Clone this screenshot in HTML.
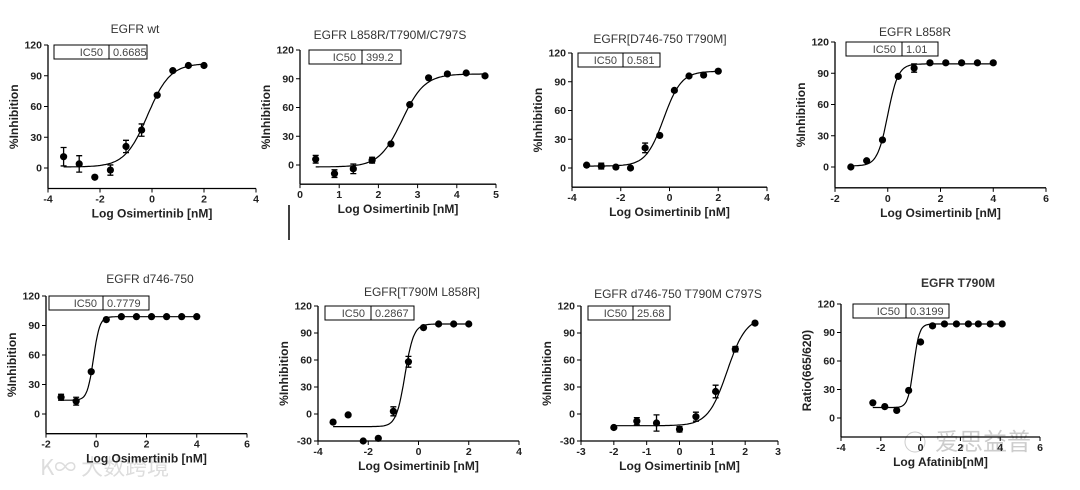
<!DOCTYPE html>
<html><head><meta charset="utf-8"><style>
html,body{margin:0;padding:0;background:#fff;}
svg{display:block;font-family:"Liberation Sans",Arial,sans-serif;}
.tk{font-size:10.5px;font-weight:bold;fill:#222;}
.al{font-size:12px;font-weight:bold;fill:#222;}
.tt{font-size:12px;fill:#333;}
.bx{font-size:11px;fill:#444;}
</style></head><body>
<svg id="c" width="1080" height="490" viewBox="0 0 1080 490">
<text x="40" y="475" font-family="Noto Sans CJK SC, sans-serif" font-size="22" fill="#ddd">K∞ 大数跨境</text>
<text x="935" y="450" font-family="Noto Sans CJK SC, sans-serif" font-size="24" fill="#ccc">爱思益普</text>
<circle cx="915" cy="442" r="10" fill="none" stroke="#ccc"/>
<line x1="289" y1="205" x2="289" y2="240" stroke="#000" stroke-width="1.5"/>
</svg>
<script>
// Panel data (x = log concentration, y = response, e = error)
const titles=["EGFR wt","EGFR L858R/T790M/C797S","EGFR[D746-750 T790M]","EGFR L858R","EGFR d746-750","EGFR[T790M L858R]","EGFR d746-750 T790M C797S","EGFR T790M"];
const ic50s=["0.6685","399.2","0.581","1.01","0.7779","0.2867","25.68","0.3199"];
const xLabels=["Log Osimertinib [nM]","Log Osimertinib [nM]","Log Osimertinib [nM]","Log Osimertinib [nM]","Log Osimertinib [nM]","Log Osimertinib [nM]","Log Osimertinib [nM]","Log Afatinib[nM]"];
const yLabels=["%Inhibition","%Inhibition","%Inhibition","%Inhibition","%Inhibition","%Inhibition","%Inhibition","Ratio(665/620)"];
const x1=[-3.4,-2.8,-2.2,-1.6,-1.0,-0.4,0.2,0.8,1.4,2.0];
const y1=[11,4,-9,-2,21,37,71,95,100,100];
const e1=[9,8,0,5,6,6,0,0,0,0];
const x2=[0.4,0.88,1.36,1.84,2.32,2.8,3.28,3.76,4.24,4.72];
const y2=[6,-9,-4,5,22,63,91,95,96,93];
const e2=[4,4,5,3,0,0,0,0,0,0];
const x3=[-3.4,-2.8,-2.2,-1.6,-1.0,-0.4,0.2,0.8,1.4,2.0];
const y3=[3,2,1,0,21,34,81,96,97,101];
const e3=[0,3,0,0,5,0,0,0,0,0];
const x4=[-1.4,-0.8,-0.2,0.4,1.0,1.6,2.2,2.8,3.4,4.0];
const y4=[0,6,26,87,95,100,100,100,100,100];
const e4=[0,0,0,0,4,0,0,0,0,0];
const x5=[-1.4,-0.8,-0.2,0.4,1.0,1.6,2.2,2.8,3.4,4.0];
const y5=[17,13,43,96,99,99,99,99,99,99];
const e5=[3,4,0,0,0,0,0,0,0,0];
const x6=[-3.4,-2.8,-2.2,-1.6,-1.0,-0.4,0.2,0.8,1.4,2.0];
const y6=[-9,-1,-30,-27,3,58,96,100,100,100];
const e6=[0,0,0,0,5,6,0,0,0,0];
const x7=[-2,-1.3,-0.7,0,0.5,1.1,1.7,2.3];
const y7=[-15,-8,-10,-17,-3,25,72,101];
const e7=[0,4,9,3,5,7,3,0];
const x8=[-2.4,-1.8,-1.2,-0.6,0,0.6,1.2,1.8,2.4,2.9,3.5,4.1];
const y8=[16,12,8,29,80,97,99,99,99,99,99,99];
const e8=[0,0,0,0,0,0,0,0,0,0,0,0];
// 4PL fit parameters: bottom, top, logIC50, hill
const fits=[[1,102,-0.17,1],[-2,95,2.6,1.5],[2,101,-0.24,1.2],[1,99,0.0,2.2],[14,99,-0.11,3.5],[-14,100,-0.54,2.5],[-13,108,1.45,1.5],[11,99,-0.35,3]];
const xTicks=[[-4,-2,0,2,4],[0,1,2,3,4,5],[-4,-2,0,2,4],[-2,0,2,4,6],[-2,0,2,4,6],[-4,-2,0,2,4],[-3,-2,-1,0,1,2,3],[-4,-2,0,2,4,6]];
const yTicks=[[0,30,60,90,120],[0,30,60,90,120],[0,30,60,90,120],[0,30,60,90,120],[0,30,60,90,120],[-30,0,30,60,90,120],[-30,0,30,60,90,120],[0,30,60,90,120]];
const yMins=[-20,-20,-20,-20,-20,-30,-30,-20];
const XS=[x1,x2,x3,x4,x5,x6,x7,x8],YS=[y1,y2,y3,y4,y5,y6,y7,y8],ES=[e1,e2,e3,e4,e5,e6,e7,e8];
// layout: axisLeftPx, axisRightPx, y120Px, y0Px, titleX, titleY, boxX, boxY, boxW1, boxW2
const L=[
 [48,256,45,168,135,33,54,45,55,38],
 [300,496,50,165,390,39,309,50,53,39],
 [572,767,53,168,660,43,578,53,45,37],
 [835,1046,42,167,915,36,846,42,56,36],
 [46,247,296,414,150,283,49,296,54,46],
 [318,519,306,414,422,296,325,306,46,43],
 [581,778,306,414,678,298,588,306,45,37],
 [841,1040,304,418,958,287,853,304,53,43]];
const svg=document.getElementById('c');
const NS='http://www.w3.org/2000/svg';
function mk(tag,attrs,parent){const e=document.createElementNS(NS,tag);for(const k in attrs)e.setAttribute(k,attrs[k]);(parent||svg).appendChild(e);return e;}
for(let p=0;p<8;p++){
 const [ax,axr,y120,y0,tx,ty,bx,by,bw1,bw2]=L[p];
 const xt=xTicks[p],xmin=xt[0],xmax=xt[xt.length-1];
 const X=v=>ax+(v-xmin)/(xmax-xmin)*(axr-ax);
 const Y=v=>y0-(v/120)*(y0-y120);
 const yb=Y(yMins[p]);
 const g=mk('g',{});
 
 
 const t=mk('text',{x:tx,y:ty,'text-anchor':'middle',class:'tt'},g);
 
 
 if(p===7){t.setAttribute('font-weight','bold');t.setAttribute('font-size','13');t.setAttribute('fill','#111');}
 t.textContent=titles[p];
 const ya=mk('line',{x1:ax,y1:y120,x2:ax,y2:yb,stroke:'#000','stroke-width':1.3},g);
 
 
 const xa=mk('line',{x1:ax,y1:yb,x2:axr,y2:yb,stroke:'#000','stroke-width':1.3},g);
 
 
 yTicks[p].forEach(v=>{
  mk('line',{x1:ax-4,y1:Y(v),x2:ax,y2:Y(v),stroke:'#000'},g);
  const l=mk('text',{x:ax-6,y:Y(v)+3.5,'text-anchor':'end',class:'tk'},g);
  
  
  l.textContent=v;
 });
 xt.forEach(v=>{
  mk('line',{x1:X(v),y1:yb,x2:X(v),y2:yb+4,stroke:'#000'},g);
  const l=mk('text',{x:X(v),y:yb+14,'text-anchor':'middle',class:'tk'},g);
  
  
  l.textContent=v;
 });
 const xl=mk('text',{x:(ax+axr)/2,y:yb+29,'text-anchor':'middle',class:'al'},g);
 
 
 xl.textContent=xLabels[p];
 const cy=(y120+yb)/2;
 const yl=mk('text',{x:ax-30,y:cy,'text-anchor':'middle',class:'al',transform:`rotate(-90 ${ax-30} ${cy})`},g);
 
 
 yl.textContent=yLabels[p];
 const bh=14;
 const r=mk('rect',{x:bx,y:by,width:bw1+bw2,height:bh,fill:'#fff',stroke:'#000'},g);
 
 
 mk('line',{x1:bx+bw1,y1:by,x2:bx+bw1,y2:by+bh,stroke:'#000'},g);
 const i1=mk('text',{x:bx+bw1-6,y:by+11,'text-anchor':'end',class:'bx'},g);
 
 
 i1.textContent='IC50';
 const i2=mk('text',{x:bx+bw1+4,y:by+11,class:'bx'},g);
 
 
 i2.textContent=ic50s[p];
 const xs=XS[p],ys=YS[p],es=ES[p];
 const [b,tp,lc,h]=fits[p];
 const a=xs[0],z=xs[xs.length-1];let d='';
 for(let i=0;i<=120;i++){const v=a+(z-a)*i/120;const f=b+(tp-b)/(1+Math.pow(10,(lc-v)*h));d+=(i?'L':'M')+X(v).toFixed(1)+','+Y(f).toFixed(1);}
 const c=mk('path',{d:d,fill:'none',stroke:'#000','stroke-width':1.2},g);
 
 
 xs.forEach((v,i)=>{
  if(es[i]>0){
   const px=X(v),t1=Y(ys[i]+es[i]),t2=Y(ys[i]-es[i]);
   const eb=mk('path',{d:`M${px},${t1}V${t2}M${px-3},${t1}H${px+3}M${px-3},${t2}H${px+3}`,stroke:'#000','stroke-width':1.3,fill:'none'},g);
   
   
  }
  const pt=mk('circle',{cx:X(v),cy:Y(ys[i]),r:3.6,fill:'#000'},g);
  
  
 });
}
</script>
</body></html>
